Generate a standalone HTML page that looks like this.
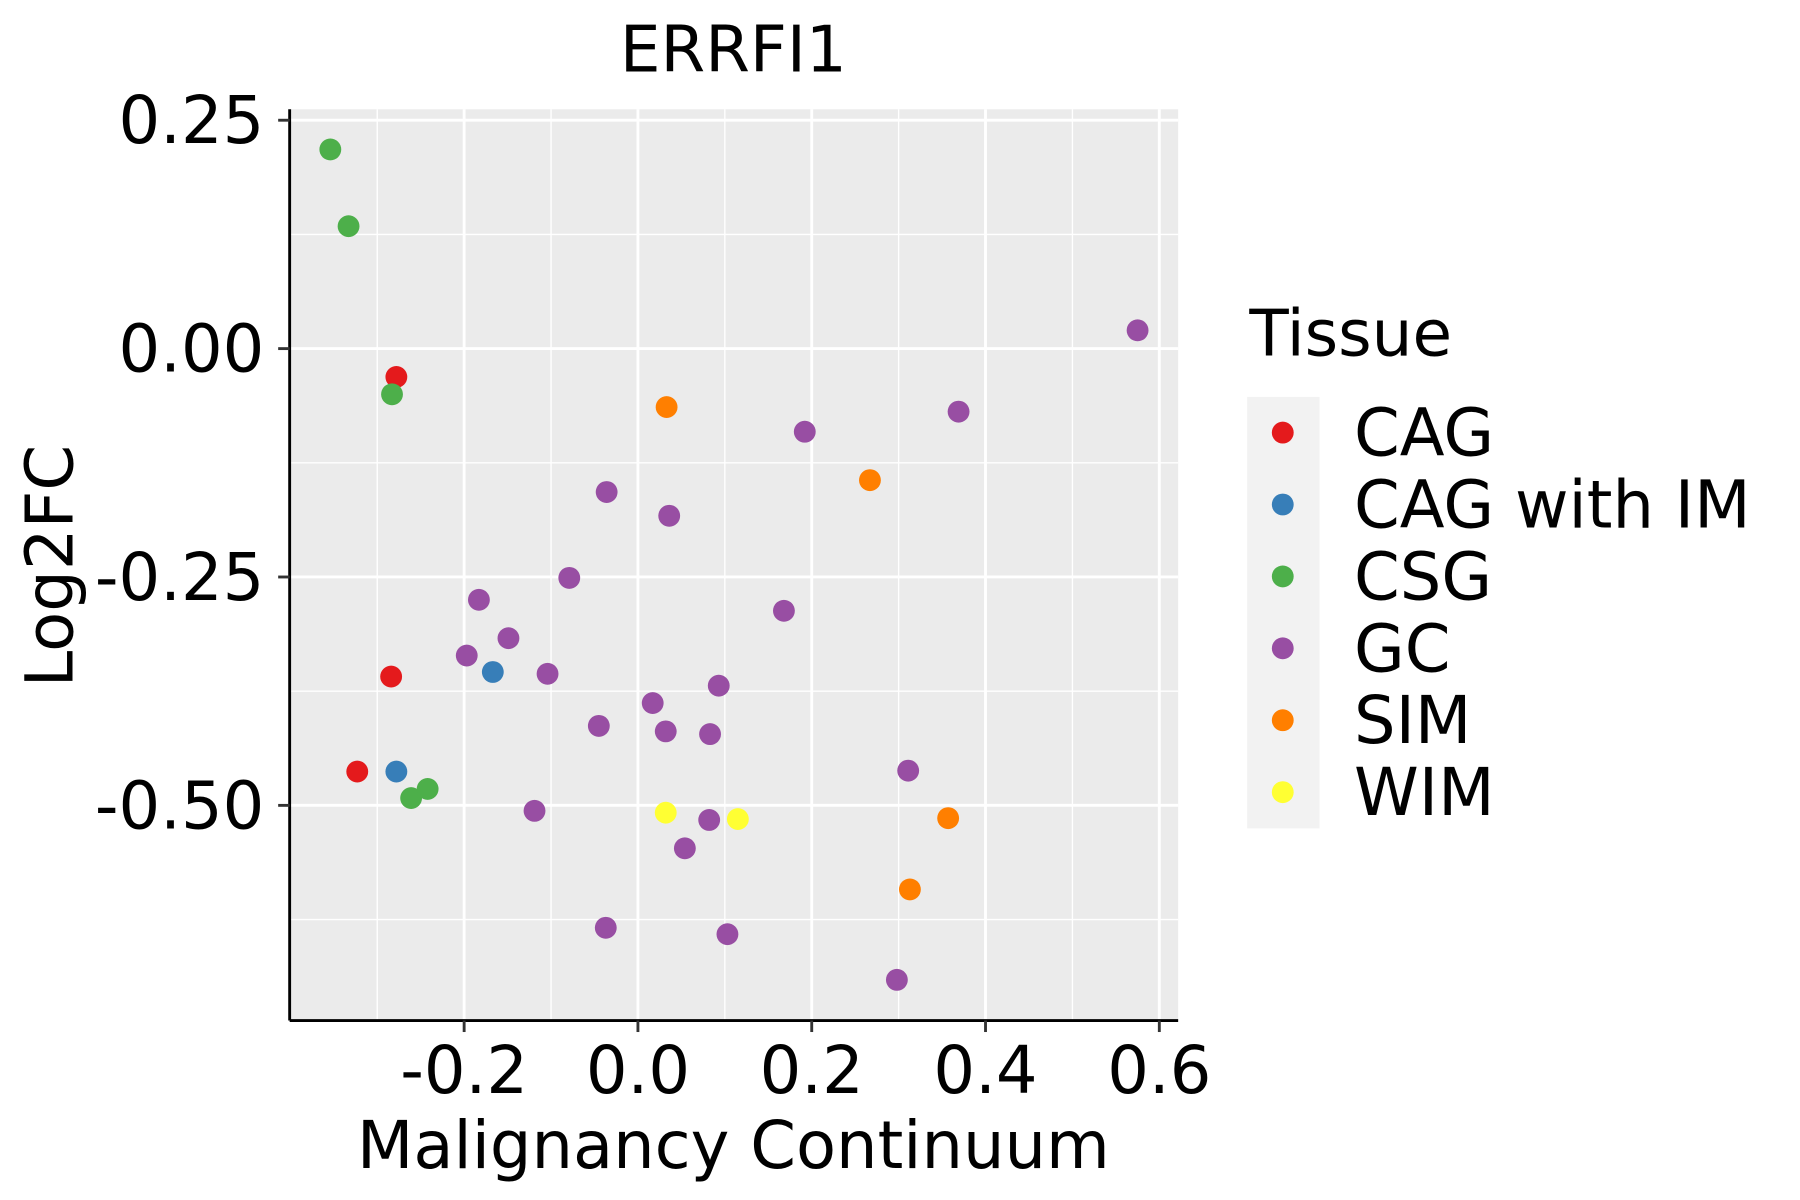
<!DOCTYPE html>
<html><head><meta charset="utf-8"><style>html,body{margin:0;padding:0;background:#fff}svg{display:block}text{font-family:"DejaVu Sans","Liberation Sans",sans-serif}</style></head>
<body>
<svg id="chart" width="1800" height="1200" viewBox="0 0 1566 1043" preserveAspectRatio="none" xmlns="http://www.w3.org/2000/svg">
<rect x="252" y="95" width="773" height="792" fill="#ebebeb"/>
<g id="grid"></g>
<g id="points"></g>
<line x1="252" y1="95" x2="252" y2="887" stroke="#000" stroke-width="2.5"/>
<line x1="252" y1="887" x2="1025" y2="887" stroke="#000" stroke-width="2.5"/>
<g id="ticks"></g>
<text x="638" y="62" font-size="56" text-anchor="middle">ERRFI1</text>
<text x="638" y="1015" font-size="57" text-anchor="middle">Malignancy Continuum</text>
<text transform="translate(63,492) rotate(-90)" font-size="57" text-anchor="middle">Log2FC</text>
<text x="1087" y="309" font-size="56">Tissue</text>
<rect x="1085" y="345" width="63" height="375" fill="#f2f2f2"/>
<g id="legend"></g>
</svg>
<script>
const categories = ["CAG","CAG with IM","CSG","GC","SIM","WIM"];
const colors = ["#e41a1c","#377eb8","#4daf4a","#984ea3","#ff7f00","#ffff33"];
const xTicks = [-0.2,0.0,0.2,0.4,0.6];
const xTickLabels = ["-0.2","0.0","0.2","0.4","0.6"];
const yTicks = [0.25,0.0,-0.25,-0.5];
const yTickLabels = ["0.25","0.00","-0.25","-0.50"];
const groupCAG_x = [-0.278,-0.284,-0.323];
const groupCAG_y = [-0.031,-0.359,-0.463];
const groupIM_x = [-0.167,-0.278];
const groupIM_y = [-0.354,-0.463];
const groupCSG_x = [-0.354,-0.333,-0.283,-0.261,-0.242];
const groupCSG_y = [0.218,0.134,-0.050,-0.492,-0.482];
const groupGC_x = [0.575,0.369,0.192,-0.036,0.036,-0.079,0.168,-0.183,-0.149,-0.197,-0.104,0.093,0.017,-0.045,0.032,0.083,0.311,-0.119,0.082,0.054,-0.037,0.103,0.298];
const groupGC_y = [0.020,-0.069,-0.091,-0.157,-0.183,-0.251,-0.287,-0.275,-0.317,-0.336,-0.356,-0.369,-0.388,-0.413,-0.419,-0.422,-0.462,-0.506,-0.516,-0.547,-0.634,-0.641,-0.691];
const groupSIM_x = [0.033,0.267,0.357,0.313];
const groupSIM_y = [-0.064,-0.144,-0.514,-0.592];
const groupWIM_x = [0.032,0.115];
const groupWIM_y = [-0.508,-0.515];
const groups = [[groupCAG_x,groupCAG_y],[groupIM_x,groupIM_y],[groupCSG_x,groupCSG_y],[groupGC_x,groupGC_y],[groupSIM_x,groupSIM_y],[groupWIM_x,groupWIM_y]];

const NS="http://www.w3.org/2000/svg";
function xS(v){return 555+v*756;}
function yS(v){return 303-v*794;}
function mk(tag,attrs,parent){const e=document.createElementNS(NS,tag);for(const k in attrs)e.setAttribute(k,attrs[k]);parent.appendChild(e);return e;}
const grid=document.getElementById('grid'),ticks=document.getElementById('ticks'),pts=document.getElementById('points'),leg=document.getElementById('legend');
for(let i=0;i<xTicks.length;i++){
  const m=xTicks[i]-0.1;
  const gm=mk('line',{x1:xS(m),x2:xS(m),y1:95,y2:887,stroke:'#fff','stroke-width':1.2},grid);
  
  
}
for(let i=0;i<yTicks.length;i++){
  const m=yTicks[i]-0.125;
  const gm=mk('line',{x1:252,x2:1025,y1:yS(m),y2:yS(m),stroke:'#fff','stroke-width':1.2},grid);
  
  
}
xTicks.forEach((v,i)=>{
  const g=mk('line',{x1:xS(v),x2:xS(v),y1:95,y2:887,stroke:'#fff','stroke-width':2.5},grid);
  
  
  const t=mk('line',{x1:xS(v),x2:xS(v),y1:887,y2:897,stroke:'#333','stroke-width':2.5},ticks);
  
  
  const l=mk('text',{x:xS(v),y:950,'font-size':57,'text-anchor':'middle',fill:'#000'},ticks);
  l.textContent=xTickLabels[i];
  
  
});
yTicks.forEach((v,i)=>{
  const g=mk('line',{x1:252,x2:1025,y1:yS(v),y2:yS(v),stroke:'#fff','stroke-width':2.5},grid);
  
  
  const t=mk('line',{x1:242,x2:252,y1:yS(v),y2:yS(v),stroke:'#333','stroke-width':2.5},ticks);
  
  
  const l=mk('text',{x:230,y:yS(v)+20,'font-size':57,'text-anchor':'end',fill:'#000'},ticks);
  l.textContent=yTickLabels[i];
  
  
});
groups.forEach((g,gi)=>{
  for(let i=0;i<g[0].length;i++){
    const c=mk('circle',{cx:xS(g[0][i]),cy:yS(g[1][i]),r:9.5,fill:colors[gi]},pts);
    
    
  }
});
categories.forEach((c,i)=>{
  const y=376+i*62.5;
  const d=mk('circle',{cx:1116,cy:y,r:9.5,fill:colors[i]},leg);
  
  
  const t=mk('text',{x:1178,y:y+20,'font-size':57,fill:'#000'},leg);
  t.textContent=c;
  
  
});
</script>
</body></html>
